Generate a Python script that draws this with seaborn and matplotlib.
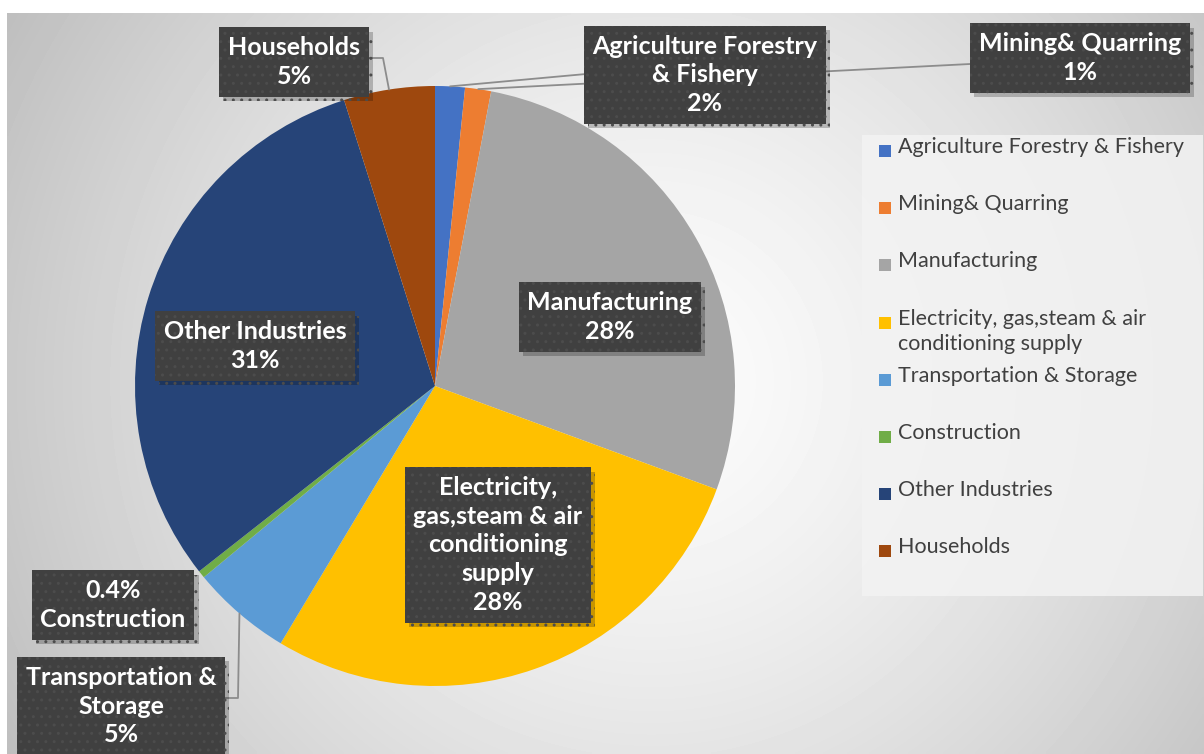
import numpy as np
import pandas as pd
import seaborn as sns
import matplotlib.pyplot as plt
import matplotlib.patheffects as pe
from matplotlib.patches import Rectangle

# DATA (share of total, %)
sectors = ["Agriculture Forestry & Fishery", "Mining& Quarring", "Manufacturing",
           "Electricity, gas,steam & air conditioning supply", "Transportation & Storage",
           "Construction", "Other Industries", "Households"]
shares = [1.6, 1.4, 27.6, 28.0, 5.4, 0.4, 30.7, 4.9]
box_names = ["Agriculture Forestry\n& Fishery", "Mining& Quarring", "Manufacturing",
             "Electricity,\ngas,steam & air\nconditioning\nsupply", "Transportation &\nStorage",
             "Construction", "Other Industries", "Households"]
legend_names = ["Agriculture Forestry & Fishery", "Mining& Quarring", "Manufacturing",
                "Electricity, gas,steam & air\nconditioning supply", "Transportation & Storage",
                "Construction", "Other Industries", "Households"]
colors = ["#4472C4", "#ED7D31", "#A5A5A5", "#FFC000", "#5B9BD5", "#70AD47", "#264478", "#9E480E"]

df = pd.DataFrame({"sector": sectors, "share": shares, "box": box_names, "color": colors})

sns.set_theme(style="white")
plt.rcParams['font.family'] = ['Lato', 'DejaVu Sans']

fig = plt.figure(figsize=(12.04, 7.54), dpi=100)
fig.patch.set_facecolor("white")

# background gradient of chart area
bg = fig.add_axes([7/1204, 0, 1197/1204, 741/754])
H, W = 247, 399
yy, xx = np.mgrid[0:H, 0:W]
cx, cy = (650-7)/3, (380-13)/3
d = np.hypot(xx-cx, yy-cy)
d = d / d.max()
grad = 252 - 62*d**1.4
bg.imshow(grad, cmap="gray", vmin=0, vmax=255, aspect="auto", interpolation="bilinear")
bg.axis("off")

# pie axes: centre (435,386) px, radius 300 px
ax = fig.add_axes([135/1204, (754-686)/754, 600/1204, 600/754])
wedges, _ = ax.pie(df.share, colors=df.color, startangle=90, counterclock=False,
                   radius=1, wedgeprops=dict(linewidth=0))
ax.set_xlim(-1, 1)
ax.set_ylim(-1, 1)
ax.axis("off")

def px(x, y):
    return ((x-435)/300, (386-y)/300)

def edge(w, r=1.0):
    a = np.deg2rad((w.theta1 + w.theta2)/2)
    return (r*np.cos(a), r*np.sin(a))

def pct(v):
    return f"{v:.0f}%" if v >= 1 else f"{v:.1f}%"

# label box centres (pixels)
box_pos = [(705, 75), (1080, 58), (610, 317), (498, 545), (121, 706), (113, 605), (255, 346), (294, 62)]

# leader lines
lc = "#8c8c8c"
w = wedges
p = edge(w[7]); ax.plot([p[0], px(383, 58)[0], px(367, 58)[0]], [p[1], px(383, 58)[1], px(367, 58)[1]],
                        color=lc, lw=1.3, clip_on=False, zorder=3)
p = edge(w[0]); ax.plot([p[0], px(586, 74)[0]], [p[1], px(586, 74)[1]], color=lc, lw=1.3, clip_on=False, zorder=3)
p = edge(w[1]); ax.plot([p[0], px(970, 64)[0]], [p[1], px(970, 64)[1]], color=lc, lw=1.3, clip_on=False, zorder=3)
p = edge(w[4]); ax.plot([p[0], px(238, 698)[0], px(225, 698)[0]], [p[1], px(238, 698)[1], px(225, 698)[1]],
                        color=lc, lw=1.3, clip_on=False, zorder=3)

shadow = [pe.SimplePatchShadow(offset=(3, -3), shadow_rgbFace="black", alpha=0.22), pe.Normal()]
for i, row in df.iterrows():
    if row.sector == "Construction":
        txt = pct(row.share) + "\n" + row.box
    else:
        txt = row.box + "\n" + pct(row.share)
    x, y = px(*box_pos[i])
    t = ax.text(x, y, txt, ha="center", va="center", fontsize=18, weight="bold",
                color="white", linespacing=1.3, clip_on=False, zorder=5,
                bbox=dict(boxstyle="square,pad=0.35", fc="#404040", ec="#4c4c4c", lw=0, hatch=".."))
    t.get_bbox_patch().set_path_effects(shadow)

# legend
lax = fig.add_axes([862/1204, (754-596)/754, 341/1204, 461/754])
lax.set_xlim(0, 341)
lax.set_ylim(461, 0)
lax.axis("off")
lax.add_patch(Rectangle((0, 0), 341, 461, fc="#f3f3f3", ec="none", alpha=0.85))
for i, name in enumerate(legend_names):
    yi = 16 + 57.2*i
    lax.scatter([23], [yi], marker="s", s=85, color=colors[i], linewidths=0)
    lax.text(36, yi-14, name, ha="left", va="top", fontsize=15.5, color="#404040", linespacing=1.35)

fig.savefig("out.png", dpi=100)
